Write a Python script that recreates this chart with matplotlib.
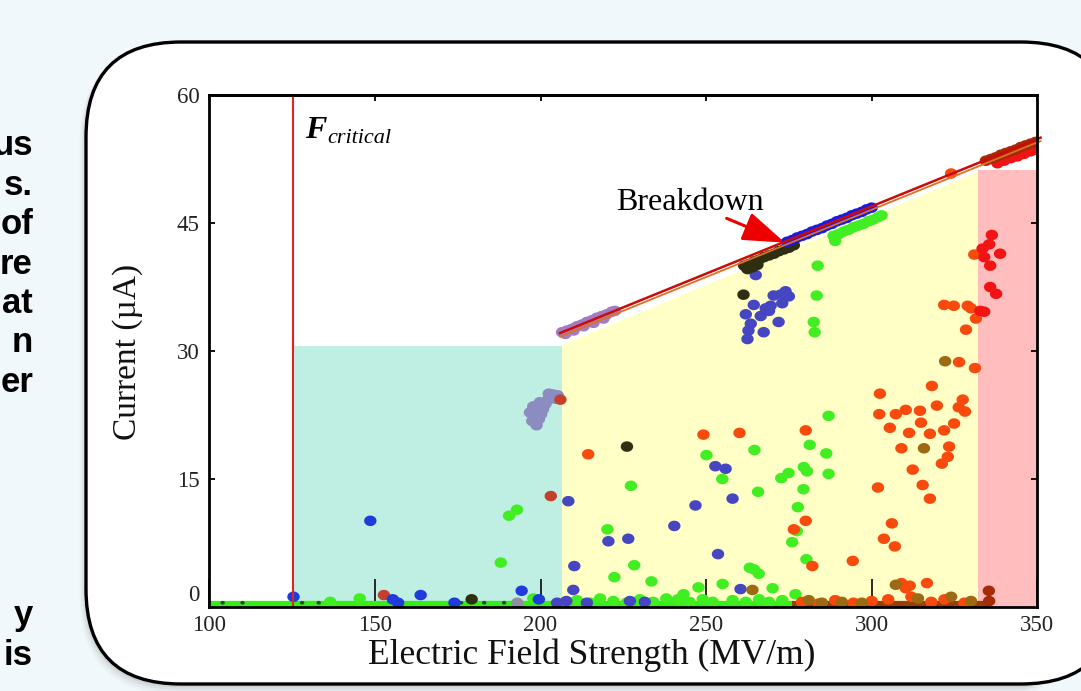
import numpy as np
import matplotlib
matplotlib.use('Agg')
import matplotlib.pyplot as plt
from matplotlib.patches import FancyBboxPatch, Polygon
from matplotlib.path import Path
import matplotlib.transforms as mtransforms

# ---------------- data ----------------
x_ticks = [100, 150, 200, 250, 300, 350]
y_ticks = [15, 30, 45, 60]
f_critical = 125.2

cyan_region = [(125.2, 0), (125.2, 30.6), (206.5, 30.6), (206.5, 0)]
yellow_region = [(206.5, 0), (206.5, 30.7), (332.1, 51.0), (332.1, 0)]
pink_region = [(332.1, 0), (332.1, 51.2), (350, 51.2), (350, 0)]

breakdown_line_x = [205.9, 351.0]
breakdown_line_y = [32.1, 55.0]
orange_line_x = [205.9, 351.0]
orange_line_y = [31.7, 54.6]

green_band_x = [100, 276]
brown_band_x = [276, 335]

green_x = [190.5, 192.9, 188, 145.4, 197.8, 136.5, 287, 281.3, 250.1, 264.6, 286.3, 279.5, 280.5,
           274.9, 272.7, 287, 254.9, 227.3, 265.7, 279.4, 277.7, 277.4, 276, 220.2, 228.3, 222.3,
           233.5, 263.2, 264.5, 265.9, 280.3, 255, 270.1, 247.7, 243.2, 277, 283.7, 283.4, 282.5,
           282.8, 211, 215, 218, 222, 226, 230, 234, 238, 241.5, 245, 249, 252, 258, 262, 266,
           269, 273, 289.0]
green_y = [10.7, 11.4, 5.2, 1.0, 1.0, 0.6, 22.4, 19.0, 17.8, 18.4, 18.0, 16.4, 15.9,
           15.7, 15.1, 15.6, 15.0, 14.2, 13.5, 13.8, 11.7, 8.9, 7.6, 9.1, 4.9, 3.5,
           3.0, 4.6, 4.4, 3.9, 5.6, 2.7, 2.2, 2.3, 1.5, 1.5, 40.0, 36.5, 33.4,
           32.2, 0.8, 0.5, 1.0, 0.7, 0.5, 0.9, 0.6, 1.0, 0.9, 0.6, 0.9, 0.6, 0.8, 0.6, 0.9,
           0.6, 0.8, 42.9]
green_line_x = [288.5, 290, 291.5, 293, 294.5, 296, 297.5, 299, 300.5, 302, 303]
green_line_y = [43.5, 43.7, 44.0, 44.2, 44.5, 44.7, 44.9, 45.2, 45.4, 45.7, 45.9]

blue_x = [148.6, 125.4, 155.4, 163.8, 194.3, 199.5, 174.0, 157.0]
blue_y = [10.1, 1.2, 0.9, 1.4, 1.9, 0.9, 0.5, 0.5]
blue_line_x = [274.5, 276, 277.5, 279, 280.5, 282, 283.5, 285, 286.5, 288, 289.5, 291, 292.5,
               294, 295.5, 297, 298.5, 300]
blue_line_y = [42.8, 43.0, 43.3, 43.5, 43.7, 44.0, 44.2, 44.4, 44.7, 44.9, 45.2, 45.4, 45.6,
               45.9, 46.1, 46.3, 46.6, 46.8]

violet_x = [208.4, 210.2, 209.9, 252.8, 255.9, 258, 246.8, 240.4, 220.5, 226.5, 253.6, 260.4,
            207.8, 227, 231.5, 214, 205, 265, 264.4, 262, 266.5, 269.5, 270.4, 272.5, 274, 275,
            271.9, 267.4, 262.8, 262.5, 269, 273, 268, 263.5]
violet_y = [12.4, 4.8, 2.0, 16.5, 16.2, 12.7, 11.9, 9.5, 7.7, 8.0, 6.2, 2.1,
            0.7, 0.7, 0.6, 0.5, 0.5, 38.9, 35.4, 34.3, 34.1, 35.3, 36.5, 36.6, 37.0, 36.4,
            33.4, 32.2, 32.4, 31.4, 34.7, 35.6, 35.0, 33.2]

orange_x = [318.2, 302.5, 302.3, 307.3, 310.3, 314.6, 319.7, 327.5, 326.3, 328.2, 305.5, 311.3,
            314.9, 317.6, 321.9, 324.9, 309, 323.4, 323, 321.2, 312.4, 315.4, 317.6, 301.9, 306.1,
            303.7, 307, 294.3, 316.7, 309, 310.3, 311.5, 249.2, 260.1, 280.1, 214.4, 280.1, 282.1,
            276.5, 321.9, 324.8, 329, 330, 331.5, 328.5, 326.4, 331.2, 331, 324,
            279, 284, 289, 294.5, 300, 305, 312, 318, 322, 328]
orange_y = [25.9, 25.0, 22.6, 22.6, 23.1, 23.0, 23.6, 24.3, 23.4, 22.9, 21.0, 20.4,
            21.6, 20.3, 20.7, 21.5, 18.6, 18.8, 17.6, 16.8, 16.1, 14.3, 12.7, 14.0, 9.8,
            8.0, 7.1, 5.4, 2.8, 2.8, 2.2, 2.5, 20.2, 20.4, 20.7, 17.9, 10.1, 4.8,
            9.1, 35.4, 35.3, 35.3, 35.0, 33.8, 32.5, 28.7, 28.0, 41.3, 50.8,
            0.6, 0.4, 0.8, 0.5, 0.7, 0.9, 1.2, 0.6, 0.9, 0.5]

red_x = [336.3, 335.5, 333.5, 338.8, 334, 335.8, 335.8, 337.6, 332.8, 334,
         338, 340, 342, 344, 346, 348, 349.5]
red_y = [43.6, 42.5, 42.0, 41.4, 41.0, 40.0, 37.5, 36.7, 34.7, 34.6,
         52.0, 52.3, 52.6, 52.8, 53.1, 53.4, 53.6]

olive_x = [315.8, 322.2, 264, 307.3, 281, 291, 297, 314, 324, 330, 285]
olive_y = [18.6, 28.8, 2.0, 2.6, 0.8, 0.6, 0.5, 1.0, 1.2, 0.7, 0.5]

dark_x = [226.1, 261.3, 179.2]
dark_y = [18.8, 36.6, 0.9]
dark_line_x = [261.5, 263, 264.5, 266, 267.5, 269, 270.5, 272, 273.5, 275, 276.5, 262.5, 264, 265.5]
dark_line_y = [40.0, 40.2, 40.5, 40.7, 41.0, 41.2, 41.4, 41.7, 41.9, 42.1, 42.4, 39.6, 39.8, 40.1]

darkred_x = [335.4, 335.5, 334.5, 336, 337.5, 339, 340.5, 342, 343.5, 345, 346.5, 348, 349.5]
darkred_y = [1.9, 0.7, 52.3, 52.5, 52.7, 53.0, 53.2, 53.4, 53.6, 53.9, 54.1, 54.3, 54.5]

salmon_x = [203.1, 152.7, 206.0]
salmon_y = [13.0, 1.4, 24.3]

lavender_x = [196.8, 197.5, 198.2, 198.8, 199.5, 197.8, 198.6, 199.4, 200.2, 200.8, 201.5, 202.3,
              203.0, 203.8, 204.6, 202.5, 205.2, 199.8]
lavender_y = [22.8, 21.8, 22.4, 21.3, 22.0, 23.5, 23.0, 23.4, 22.6, 23.2, 23.8, 24.3,
              24.6, 24.9, 24.4, 25.0, 24.8, 24.0]

purple_line_x = [206.5, 208, 209.5, 211, 212.5, 214, 215.5, 217, 218.5, 220, 221.5, 222.5,
                 207.5, 210, 213, 216, 219]
purple_line_y = [32.2, 32.4, 32.6, 32.9, 33.1, 33.4, 33.6, 33.9, 34.1, 34.3, 34.6, 34.7,
                 32.0, 32.4, 32.9, 33.3, 33.8]

gray_x = [193.0]
gray_y = [0.5]

tiny_x = [104, 110, 128, 133, 176, 183, 189]
tiny_y = [0.5, 0.5, 0.5, 0.5, 0.5, 0.5, 0.5]

slide_lines = ["us", "s.", "of", "re", "at", "n", "er", "y", "is"]
slide_baselines = [155, 195, 234, 274, 313, 352, 392, 625, 665]

# ---------------- figure ----------------
plt.rcParams['font.family'] = ['Liberation Serif', 'DejaVu Serif']
W, H = 1081, 691
fig = plt.figure(figsize=(W / 100, H / 100), dpi=100)
fig.patch.set_facecolor('#F0F8FC')

bg = fig.add_axes([0, 0, 1, 1], zorder=0)
bg.set_xlim(0, W)
bg.set_ylim(H, 0)
bg.axis('off')

# shadow of the frame
for i, a in enumerate([0.10, 0.07, 0.045, 0.03]):
    off = 2 + 1.5 * i
    sh = FancyBboxPatch((86 - off * 0.3, 42 + off), 1030, 642,
                        boxstyle='round,pad=0,rounding_size=95',
                        fc='none', ec='#555555', lw=2 + 1.5 * i, alpha=a)
    bg.add_patch(sh)
frame = FancyBboxPatch((86, 42), 1030, 642, boxstyle='round,pad=0,rounding_size=95',
                       fc='white', ec='black', lw=2.4)
bg.add_patch(frame)

for txt, yb in zip(slide_lines, slide_baselines):
    bg.text(33, yb, txt, ha='right', va='baseline', fontsize=25, fontweight='bold',
            family=['Liberation Sans', 'DejaVu Sans'], color='black')

# main axes
x0, x1, y0, y1 = 209.4, 1037.2, 95, 607
ax = fig.add_axes([x0 / W, 1 - y1 / H, (x1 - x0) / W, (y1 - y0) / H], zorder=2)
ax.set_facecolor('white')
ax.set_xlim(100, 350)
ax.set_ylim(0, 60)

ax.add_patch(Polygon(cyan_region, closed=True, fc='#BEEFE2', ec='none', zorder=1))
ax.add_patch(Polygon(yellow_region, closed=True, fc='#FFFFC6', ec='none', zorder=1))
ax.add_patch(Polygon(pink_region, closed=True, fc='#FFBDBD', ec='none', zorder=1))

ax.plot(green_band_x, [0.35, 0.35], color='#36EE14', lw=4.5, solid_capstyle='butt', zorder=2)
ax.plot(brown_band_x, [0.35, 0.35], color='#9A3E08', lw=4.5, solid_capstyle='butt', zorder=2)

th = np.linspace(0, 2 * np.pi, 40)
ell = Path(np.column_stack([1.18 * np.cos(th), np.sin(th)]), closed=True)


def dots(xs, ys, c, s=80, z=3):
    ax.scatter(xs, ys, s=s, marker=ell, c=c, edgecolors='none', zorder=z)


dots(tiny_x, tiny_y, '#2C4A2C', s=10)
dots(lavender_x, lavender_y, '#8C8CC0')
dots(salmon_x, salmon_y, '#C4402C')
dots(gray_x, gray_y, '#9090A0')
dots(green_x, green_y, '#40EE22')
dots(blue_x, blue_y, '#1E3CDC')
dots(violet_x, violet_y, '#4646C2')
dots(orange_x, orange_y, '#F84A0C')
dots(olive_x, olive_y, '#9C6A12')
dots(dark_x, dark_y, '#2E2E10')
dots(red_x, red_y, '#F21414')
dots(darkred_x, darkred_y, '#A62A08')
dots(purple_line_x, purple_line_y, '#A27CC2')
dots(dark_line_x, dark_line_y, '#2E2E10')
dots(green_line_x, green_line_y, '#40EE22')
dots(blue_line_x, blue_line_y, '#1A1AE6')

ax.plot(orange_line_x, orange_line_y, color='#E07020', lw=1.3, zorder=5, clip_on=False)
ax.plot(breakdown_line_x, breakdown_line_y, color='#CC0A0A', lw=1.8, zorder=6, clip_on=False)
ax.plot([f_critical, f_critical], [0, 60], color='#E02424', lw=1.5, zorder=6)

ax.text(128.9, 54.96, 'F', fontsize=23, fontweight='bold', fontstyle='italic',
        ha='left', va='baseline', zorder=7)
ax.text(135.6, 54.4, 'critical', fontsize=16, fontstyle='italic',
        ha='left', va='baseline', zorder=7)

ax.text(245.2, 46.5, 'Breakdown', fontsize=23, ha='center', va='baseline', zorder=7)
ax.annotate('', xy=(273.8, 42.7), xytext=(256.2, 45.55),
            arrowprops=dict(arrowstyle='-|>,head_length=1.3,head_width=0.45',
                            color='#EE0000', lw=2.2, mutation_scale=20, shrinkA=0, shrinkB=0),
            zorder=8)

# spines & ticks
for sp in ax.spines.values():
    sp.set_linewidth(2.0)
    sp.set_color('black')
    sp.set_zorder(9)

ax.set_xticks(x_ticks)
ax.set_xticklabels([str(v) for v in x_ticks])
ax.tick_params(axis='x', direction='in', length=20, width=1.3, colors='#1a1a1a',
               labelcolor='#222222', labelsize=16.5, pad=6, top=False)
ax.set_yticks(y_ticks)
ax.set_yticklabels([str(v) for v in y_ticks])
ax.tick_params(axis='y', direction='in', length=4, width=1.3, labelsize=16.5, pad=7,
               left=True, right=True, labelcolor='#222222')
ax.text(-0.012, 1.4, '0', transform=mtransforms.blended_transform_factory(ax.transAxes, ax.transData),
        ha='right', va='center', fontsize=16.5, color='#222222')

sec = ax.secondary_xaxis('top')
sec.set_xticks(x_ticks)
sec.set_xticklabels([])
sec.tick_params(direction='in', length=4, width=1.3)
sec.spines['top'].set_linewidth(2.0)

bg.text(592, 664, 'Electric Field Strength (MV/m)', ha='center', va='baseline',
        fontsize=25.5, color='#111111', zorder=3)
bg.text(128, 352, 'Current (\u00b5A)', ha='center', va='center', rotation=90,
        fontsize=24, color='#111111', zorder=3)

fig.savefig('out.png', dpi=100, facecolor=fig.get_facecolor())
